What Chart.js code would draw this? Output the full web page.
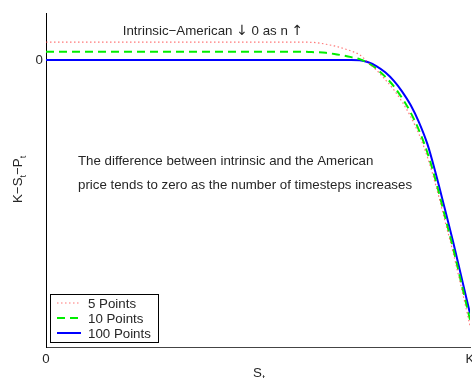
<!DOCTYPE html>
<html>
<head>
<meta charset="utf-8">
<script src="https://cdn.jsdelivr.net/npm/chart.js@4/dist/chart.umd.min.js"></script>
<style>
  html, body { margin: 0; padding: 0; background: #fff; }
  #wrap { width: 472px; height: 378px; position: relative; }
</style>
</head>
<body>
<div id="wrap"><canvas id="diffChart"></canvas></div>
<script>
// stock price as a fraction of the strike K
const sValues = [0, 0.2, 0.4, 0.6, 0.62, 0.64, 0.66, 0.68, 0.7, 0.72, 0.74, 0.76, 0.78,
    0.8, 0.82, 0.84, 0.86, 0.88, 0.9, 0.92, 0.94, 0.96, 0.98, 1.0]
// K - S_t - P_t for each tree size
const diff5 = [0.062, 0.062, 0.062, 0.062, 0.062, 0.06, 0.055, 0.049, 0.041, 0.031, 0.018, -0.009, -0.036,
    -0.068, -0.103, -0.146, -0.197, -0.26, -0.34, -0.44, -0.555, -0.67, -0.795, -0.925]
const diff10 = [0.029, 0.029, 0.029, 0.029, 0.028, 0.027, 0.025, 0.021, 0.016, 0.01, 0.003, -0.011, -0.031,
    -0.058, -0.091, -0.133, -0.183, -0.246, -0.325, -0.425, -0.54, -0.655, -0.78, -0.905]
const diff100 = [0, 0, 0, 0, 0, 0, 0, 0, 0, 0, -0.001, -0.008, -0.022,
    -0.043, -0.072, -0.11, -0.157, -0.218, -0.295, -0.4, -0.515, -0.632, -0.758, -0.883]
const seriesNames = ['5 Points', '10 Points', '100 Points']
const xTickLabels = ['0', 'K']
const yTickLabels = ['0']

const FONT = '"Liberation Sans", Arial, Helvetica, sans-serif'
const ARROW_FONT = '"DejaVu Sans", sans-serif'
const SIZE = 13.3
const TEXT = '#262626'

function toPoints(ys) {
    return ys.map((y, i) => ({ x: sValues[i], y: y }))
}

// draws mixed runs of text left to right, each with its own font
function drawRuns(ctx, runs, x, y) {
    runs.forEach(([txt, font]) => {
        ctx.font = font
        ctx.fillText(txt, x, y)
        x += ctx.measureText(txt).width
    })
}

function runsWidth(ctx, runs) {
    return runs.reduce((w, [txt, font]) => {
        ctx.font = font
        return w + ctx.measureText(txt).width
    }, 0)
}

// titles with subscripts, the two notes and the boxed legend
const extras = {
    id: 'extras',
    afterDraw(chart) {
        const ctx = chart.ctx
        ctx.save()
        ctx.fillStyle = TEXT
        ctx.textBaseline = 'alphabetic'
        ctx.textAlign = 'left'

        const body = SIZE + 'px ' + FONT
        const arrow = '14px ' + ARROW_FONT
        const head = [
            ['Intrinsic\u2212American ', body], ['\u2193', arrow],
            [' 0 as n ', body], ['\u2191', arrow]
        ]
        drawRuns(ctx, head, 213 - runsWidth(ctx, head) / 2, 35)

        ctx.font = body
        ctx.fillText('The difference between intrinsic and the American', 78, 165)
        ctx.fillText('price tends to zero as the number of timesteps increases', 78, 189)

        // x title S_t
        ctx.font = body
        ctx.fillText('S', 253, 377)
        ctx.font = '9px ' + FONT
        ctx.fillText('t', 262.5, 381)

        // y title K-S_t-P_t, rotated
        ctx.save()
        ctx.translate(22, 203)
        ctx.rotate(-Math.PI / 2)
        let x = 0
        const parts = [['K\u2212S', false], ['t', true], ['\u2212P', false], ['t', true]]
        parts.forEach(([txt, sub]) => {
            ctx.font = sub ? '9px ' + FONT : body
            ctx.fillText(txt, x, sub ? 4 : 0)
            x += ctx.measureText(txt).width
        })
        ctx.restore()

        // legend box
        const bx = 50.5, by = 294.5, bw = 108, bh = 48
        ctx.fillStyle = '#fff'
        ctx.fillRect(bx, by, bw, bh)
        ctx.strokeStyle = '#000'
        ctx.lineWidth = 1
        ctx.strokeRect(bx, by, bw, bh)
        chart.data.datasets.forEach((ds, i) => {
            const ly = 303 + i * 15
            ctx.strokeStyle = ds.borderColor
            ctx.lineWidth = ds.borderWidth
            ctx.setLineDash(ds.borderDash || [])
            ctx.beginPath()
            ctx.moveTo(57, ly)
            ctx.lineTo(81, ly)
            ctx.stroke()
            ctx.setLineDash([])
            ctx.fillStyle = TEXT
            ctx.font = body
            ctx.fillText(ds.label, 88, ly + 4.5)
        })
        ctx.restore()
    }
}

new Chart(document.getElementById('diffChart'), {
    type: 'line',
    data: {
        datasets: [
            {
                label: seriesNames[0],
                data: toPoints(diff5),
                borderColor: 'rgba(255, 60, 60, 0.7)',
                borderWidth: 1.2,
                borderDash: [1.5, 2.5]
            },
            {
                label: seriesNames[1],
                data: toPoints(diff10),
                borderColor: '#00ee00',
                borderWidth: 2,
                borderDash: [8, 5]
            },
            {
                label: seriesNames[2],
                data: toPoints(diff100),
                borderColor: '#0000ff',
                borderWidth: 2
            }
        ]
    },
    options: {
        responsive: true,
        maintainAspectRatio: false,
        animation: false,
        layout: { padding: { top: 13, right: 2, left: 0, bottom: 0 } },
        elements: {
            point: { radius: 0 },
            line: { cubicInterpolationMode: 'monotone', fill: false }
        },
        plugins: {
            legend: { display: false },
            tooltip: { enabled: false }
        },
        scales: {
            x: {
                type: 'linear',
                min: 0,
                max: 1,
                grid: { display: false, drawTicks: false },
                border: { display: true, color: '#444', width: 1 },
                afterBuildTicks: s => { s.ticks = [{ value: 0 }, { value: 1 }] },
                afterFit: s => { s.height = 31; s.paddingLeft = 0; s.paddingRight = 0 },
                ticks: {
                    autoSkip: false,
                    maxRotation: 0,
                    padding: 4,
                    color: TEXT,
                    font: { family: FONT, size: SIZE },
                    callback: v => xTickLabels[v === 1 ? 1 : 0]
                }
            },
            y: {
                min: -1,
                max: 0.1638,
                grid: { display: false, drawTicks: false },
                border: { display: true, color: '#000', width: 1 },
                afterBuildTicks: s => { s.ticks = [{ value: 0 }] },
                afterFit: s => { s.width = 46; s.paddingTop = 0; s.paddingBottom = 0 },
                ticks: {
                    padding: 3,
                    color: TEXT,
                    font: { family: FONT, size: SIZE },
                    callback: () => yTickLabels[0]
                }
            }
        }
    },
    plugins: [extras]
})
</script>
</body>
</html>
